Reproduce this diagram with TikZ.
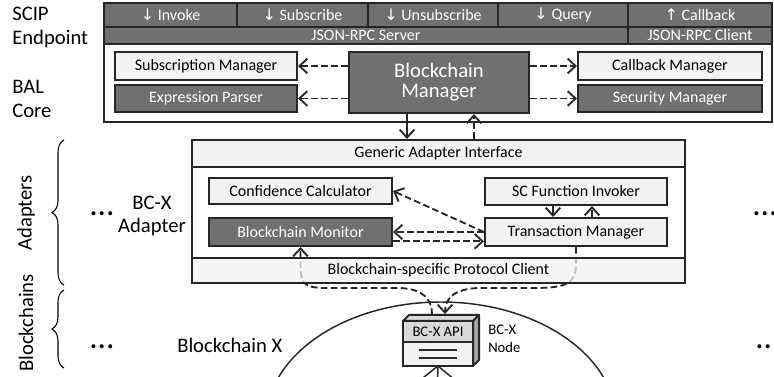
\documentclass[tikz,border=0pt]{standalone}
\usepackage{fontspec}
\setmainfont{Carlito}
\newfontfamily\arrowfont{DejaVu Sans}
\usetikzlibrary{arrows.meta,decorations.pathreplacing}
\definecolor{linegray}{HTML}{262626}
\definecolor{darkfill}{HTML}{707070}
\definecolor{litefill}{HTML}{F2F2F2}
\definecolor{apifill}{HTML}{D9D9D9}
\definecolor{sidefill}{HTML}{A6A6A6}

\begin{document}
\begin{tikzpicture}[
    x = 0.75pt, y = -0.75pt,
    block/.style = {
        draw = linegray,
        line width = 1.5pt,
        inner sep = 0pt,
        font = \fontsize{12}{14}\selectfont
    },
    lite/.style = {block, fill = litefill},
    dark/.style = {block, fill = darkfill, text = white},
    heading/.style = {font = \fontsize{15.5}{18}\selectfont, inner sep = 0pt},
    dots/.style = {font = \fontsize{25}{25}\selectfont, inner sep = 0pt, anchor = base west},
    flow/.style = {
        draw = linegray,
        line width = 1.4pt,
        dash pattern = on 5pt off 2.5pt,
        -{Straight Barb[length = 6pt, width = 11pt]}
    },
    call/.style = {flow, solid}
]
\useasboundingbox (0, 0) rectangle (774, 377);

% Left side labels
\node[heading, align = left, anchor = base west] (scip) at (12, 45) {SCIP\\Endpoint};
\node[heading, align = left, anchor = base west] (bal) at (12, 118) {BAL\\Core};
\node[heading, rotate = 90] (adapters) at (26, 213) {Adapters};
\node[heading, rotate = 90] (chains) at (26, 323) {Blockchains};
\draw[decorate, decoration = {brace, amplitude = 9pt}, line width = 0.8pt] (64, 285) -- (64, 140);
\draw[decorate, decoration = {brace, amplitude = 9pt}, line width = 0.8pt] (64, 368) -- (64, 290);
\foreach \nm / \dx / \dy in {a/89/216, b/752/216, c/89/349, d/755/349} {
    \node[dots] (dots\nm) at (\dx, \dy) {...};
}

% SCIP endpoint and BAL core
\draw[draw = linegray, line width = 1.5pt] (104, 3) rectangle (772, 122);
\foreach \i / \cx / \cw / \lbl in {1/170.5/99.75/{{\arrowfont ↓} Invoke}, 2/302.5/98.25/{{\arrowfont ↓} Subscribe}, 3/433/97.5/{{\arrowfont ↓} Unsubscribe}, 4/563/97.5/{{\arrowfont ↓} Query}, 5/700/108/{{\arrowfont ↑} Callback}} {
    \node[dark, minimum width = \cw pt, minimum height = 18pt] (op\i) at (\cx, 15) {\lbl};
}
\node[dark, minimum width = 393pt, minimum height = 12.75pt] (server) at (366, 35.5) {JSON-RPC Server};
\node[dark, minimum width = 108pt, minimum height = 12.75pt] (client) at (700, 35.5) {JSON-RPC Client};

\node[lite, minimum width = 136.5pt, minimum height = 21pt] (subm) at (206, 66) {Subscription Manager};
\node[dark, minimum width = 136.5pt, minimum height = 20.25pt] (expr) at (206, 98.5) {Expression Parser};
\node[dark, minimum width = 135pt, minimum height = 45.75pt, align = center, font = \fontsize{15.5}{15}\selectfont] (bcm) at (439, 82.5) {Blockchain\\Manager};
\node[lite, minimum width = 138pt, minimum height = 21pt] (cbm) at (670, 66) {Callback Manager};
\node[dark, minimum width = 138pt, minimum height = 20.25pt] (secm) at (670, 98.5) {Security Manager};

\draw[flow] (bcm.west |- subm.east) -- (subm.east);
\draw[flow] (bcm.west |- expr.east) -- (expr.east);
\draw[flow] (bcm.east |- cbm.west) -- (cbm.west);
\draw[flow] (bcm.east |- secm.west) -- (secm.west);

% BC-X adapter
\node[heading, align = center, anchor = base, font = \fontsize{15.5}{17.5}\selectfont] (bcxa) at (152, 233) {BC-X\\Adapter};
\draw[draw = linegray, line width = 1.5pt] (192, 140) rectangle (685, 283);
\node[lite, minimum width = 369.75pt, minimum height = 20.25pt] (gai) at (438.5, 153.5) {Generic Adapter Interface};
\node[lite, minimum width = 137.25pt, minimum height = 19.5pt] (conf) at (300.5, 191) {Confidence Calculator};
\node[dark, minimum width = 137.25pt, minimum height = 21pt] (mon) at (300.5, 232) {Blockchain Monitor};
\node[lite, minimum width = 136.5pt, minimum height = 20.25pt] (scfi) at (576, 191.5) {SC Function Invoker};
\node[lite, minimum width = 136.5pt, minimum height = 21pt] (txm) at (576, 232) {Transaction Manager};

\draw[call] ([xshift = -24pt]bcm.south) -- ([xshift = -24pt]bcm.south |- gai.north);
\draw[flow] ([xshift = 26.25pt]bcm.south |- gai.north) -- ([xshift = 26.25pt]bcm.south);
\draw[flow] (txm.west) -- (conf.east);
\draw[flow] (txm.west) -- (mon.east);
\draw[flow] ([yshift = -7pt]mon.east) -- ([yshift = -7pt]txm.west);
\draw[call] ([xshift = -17.25pt]scfi.south) -- ([xshift = -17.25pt]txm.north);
\draw[flow] ([xshift = 12pt]txm.north) -- ([xshift = 12pt]scfi.south);

% Blockchain X
\node[heading, anchor = base west] (bcx) at (177, 353) {Blockchain X};
\draw[draw = linegray, line width = 1.1pt] (441, 422) ellipse [x radius = 131.25pt, y radius = 90pt];
\coordinate (peer1) at (395, 400);
\coordinate (peer2) at (437, 400);
\coordinate (peer3) at (479, 400);

\node[block, fill = apifill, outer sep = 0pt, minimum width = 52.5pt, minimum height = 15.75pt, font = \fontsize{11}{13}\selectfont] (api) at (438, 331.5) {BC-X API};
\node[block, fill = litefill, outer sep = 0pt, minimum width = 52.5pt, minimum height = 18pt] (core) at (438, 354) {};
\draw[draw = linegray, line width = 1.5pt, fill = apifill, line join = round] (api.north west) -- ++(4.5pt, 4.5pt) -- ([shift = {(4.5pt, 4.5pt)}]api.north east) -- (api.north east) -- cycle;
\draw[draw = linegray, line width = 1.5pt, fill = sidefill, line join = round] (api.north east) -- ++(4.5pt, 4.5pt) -- ([shift = {(4.5pt, 4.5pt)}]core.south east) -- (core.south east) -- cycle;
\draw[draw = linegray, line width = 1.2pt] ([shift = {(-14pt, 3pt)}]core.center) -- ([shift = {(14pt, 3pt)}]core.center);
\draw[draw = linegray, line width = 1.2pt] ([shift = {(-14pt, -3pt)}]core.center) -- ([shift = {(14pt, -3pt)}]core.center);
\foreach \p in {1, 2, 3} {
    \draw[draw = linegray, line width = 1.1pt] (core.south) -- (peer\p);
}
\node[anchor = base west, align = left, inner sep = 0pt, font = \fontsize{11}{13.5}\selectfont] (bcxnode) at (488, 353) {BC-X\\Node};

% Protocol client links
\coordinate (apiin) at ([shift = {(5.25pt, 5.25pt)}]api.north);
\coordinate (apiout) at ([shift = {(-4.5pt, 4.5pt)}]api.north);
\draw[flow] (txm.south) -- (576, 265) .. controls (576, 286) and (562, 288) .. (530, 288) -- (478, 288) .. controls (456, 289) and (445, 297) .. (apiin);
\draw[flow] (apiout) .. controls (432, 298) and (422, 289) .. (400, 288) -- (322, 288) .. controls (302, 287) and (300.5, 282) .. (300.5, 262) -- (mon.south);
\node[lite, fill opacity = 0.75, text opacity = 1, minimum width = 369.75pt, minimum height = 18.75pt] (bpc) at (438.5, 270.5) {Blockchain-specific Protocol Client};

\end{tikzpicture}
\end{document}
